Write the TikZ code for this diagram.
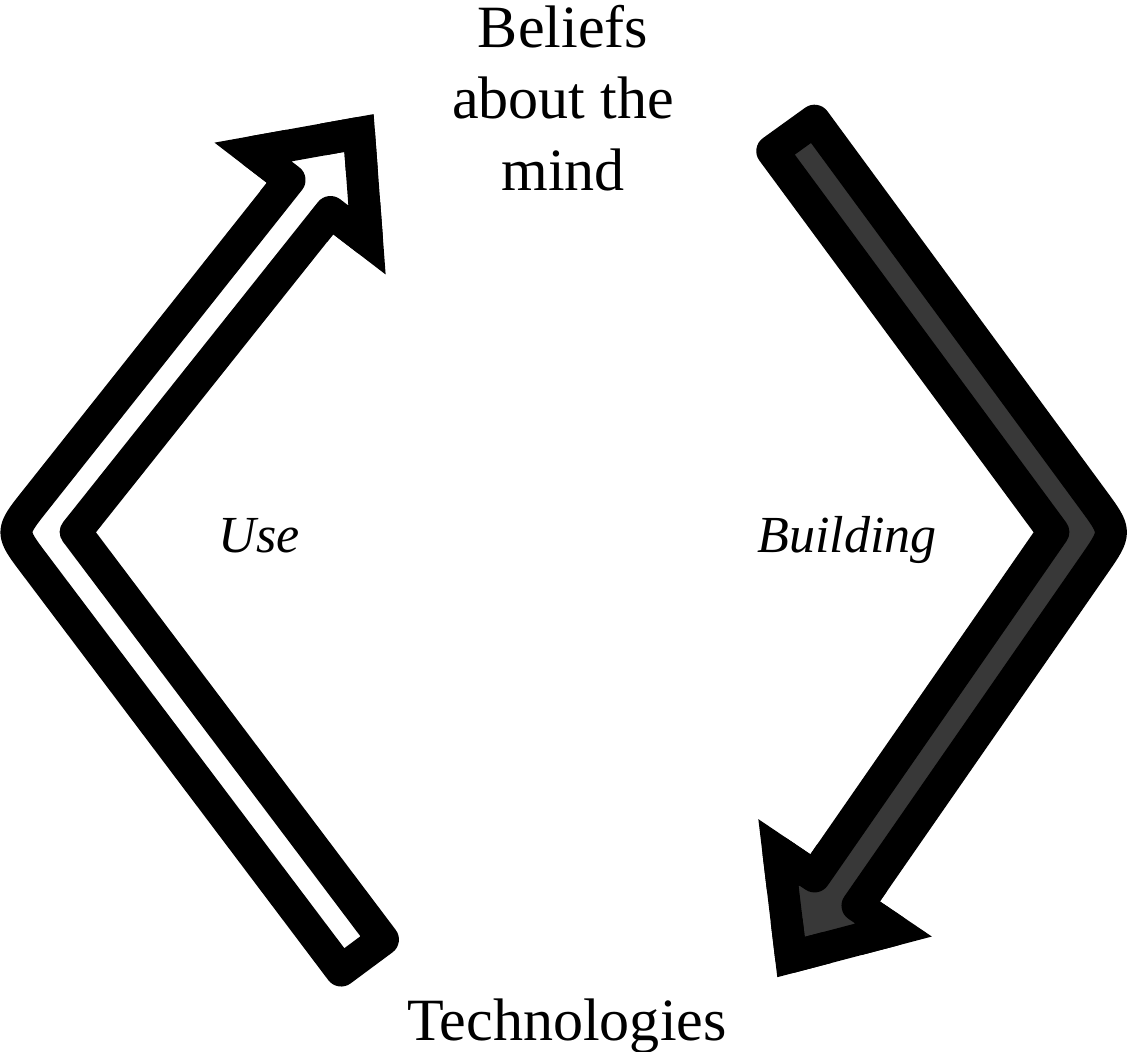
\documentclass[tikz,border=0pt]{standalone}
\usepackage{fontspec}
\setmainfont{Liberation Serif}
\usetikzlibrary{calc}
\definecolor{darkfill}{HTML}{383838}

\begin{document}
\begin{tikzpicture}[x=0.01cm,y=-0.01cm]

\tikzset{arrowline/.style = {draw=black, line width=0.32cm, line join=round}}
\tikzset{arrowtip/.style = {draw=black, line width=0.32cm, line join=miter}}
\tikzset{title/.style = {font=\fontsize{17.07pt}{20.2pt}\selectfont, inner sep=0pt, align=center}}
\tikzset{sidetext/.style = {font=\fontsize{14.8pt}{17pt}\selectfont\itshape, inner sep=0pt}}

\useasboundingbox (0,0) rectangle (1128,1051);

%texts
\node[title, anchor=base] (beliefs) at (563,190) {Beliefs\\about the\\mind};
\node[title, anchor=base] (tech) at (567,1040) {Technologies};
\node[sidetext, anchor=base] (use) at (259,552) {Use};
\node[sidetext, anchor=base] (build) at (847,552) {Building};

%left arrow (use)
\coordinate (u1) at (341.1,970.5);
\coordinate (u2) at (10.3,532);
\coordinate (u3) at (289.5,180);
\coordinate (u4) at (253,152);
\coordinate (u5) at (359,133);
\coordinate (u6) at (367,240);
\coordinate (u7) at (330.5,212);
\coordinate (u8) at (75.7,532);
\coordinate (u9) at (382.9,939.5);
\filldraw[arrowline, fill=white] (u1) -- ($(u2)!0.4cm!(u1)$) .. controls (u2) .. ($(u2)!0.4cm!(u3)$)
  -- (u3) -- (u4) -- (u5) -- (u6) -- (u7) -- (u8) -- (u9) -- cycle;
\begin{scope}
\clip (u4) circle (40) (u5) circle (40) (u6) circle (40);
\draw[arrowtip] (u2) -- (u3) -- (u4) -- (u5) -- (u6) -- (u7) -- (u8);
\end{scope}

%right arrow (building)
\coordinate (b1) at (814.5,120.7);
\coordinate (b2) at (1116.7,532);
\coordinate (b3) at (857.5,905.6);
\coordinate (b4) at (893.6,930);
\coordinate (b5) at (791,957);
\coordinate (b6) at (778.4,852);
\coordinate (b7) at (814.5,876.4);
\coordinate (b8) at (1053.3,532);
\coordinate (b9) at (772.3,151.1);
\filldraw[arrowline, fill=darkfill] (b1) -- ($(b2)!0.4cm!(b1)$) .. controls (b2) .. ($(b2)!0.4cm!(b3)$)
  -- (b3) -- (b4) -- (b5) -- (b6) -- (b7) -- (b8) -- (b9) -- cycle;
\begin{scope}
\clip (b4) circle (40) (b5) circle (40) (b6) circle (40);
\draw[arrowtip] (b2) -- (b3) -- (b4) -- (b5) -- (b6) -- (b7) -- (b8);
\end{scope}

\end{tikzpicture}
\end{document}
